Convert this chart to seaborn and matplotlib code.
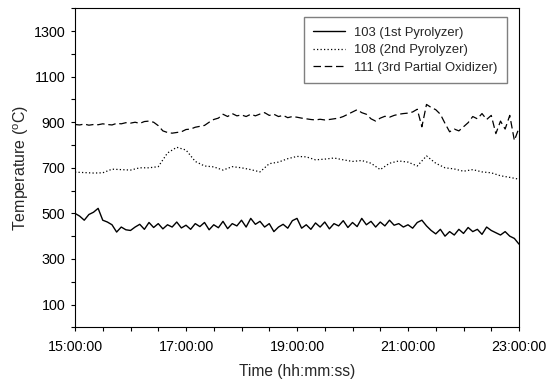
import numpy as np
import pandas as pd
import matplotlib
matplotlib.use("Agg")
import matplotlib.pyplot as plt
from matplotlib.ticker import FixedLocator, MultipleLocator
import seaborn as sns

# ---- data ----
start_hour = 15
step_solid_min = 5
t103 = [500, 488, 470, 495, 505, 522, 470, 462, 450, 418, 440, 428,
        425, 440, 452, 430, 460, 438, 455, 432, 450, 440, 462, 436,
        448, 430, 455, 442, 460, 428, 450, 437, 465, 433, 455, 445,
        470, 440, 478, 452, 465, 440, 455, 420, 440, 452, 435, 468,
        478, 435, 450, 430, 458, 440, 462, 432, 455, 445, 468, 438,
        460, 442, 478, 450, 465, 440, 462, 445, 470, 448, 455, 440,
        450, 435, 460, 470, 445, 425, 410, 430, 400, 420, 405, 430,
        412, 438, 420, 430, 408, 440, 425, 415, 405, 420, 400, 390,
        365]
step_dash_min = 5
t111 = [890, 888, 892, 887, 890, 889, 893, 890, 888, 895, 893, 898,
        896, 900, 895, 903, 905, 900, 885, 862, 855, 852, 855, 858,
        868, 870, 878, 882, 886, 900, 912, 918, 935, 925, 938, 928,
        932, 925, 935, 928, 936, 942, 930, 935, 925, 930, 920, 925,
        922, 918, 915, 912, 910, 913, 910, 912, 915, 918, 925, 935,
        945, 955, 942, 935, 915, 905, 918, 926, 922, 930, 935, 938,
        940, 945, 957, 880, 978, 965, 955, 935, 895, 858, 870, 862,
        880, 898, 925, 915, 938, 912, 930, 850, 905, 870, 930, 820,
        875]
step_dot_min = 10
t108 = [681, 679, 677, 678, 694, 692,
        690, 700, 700, 705, 765, 790,
        778, 728, 708, 704, 690, 705,
        700, 692, 682, 718, 725, 740,
        750, 748, 735, 738, 743, 735,
        728, 732, 720, 692, 720, 730,
        725, 708, 752, 720, 700, 695,
        685, 692, 682, 678, 665, 658,
        650]
series_labels = ["103 (1st Pyrolyzer)", "108 (2nd Pyrolyzer)", "111 (3rd Partial Oxidizer)"]
xtick_hours = [15, 17, 19, 21, 23]
xtick_labels = ["15:00:00", "17:00:00", "19:00:00", "21:00:00", "23:00:00"]
ytick_major = [100, 300, 500, 700, 900, 1100, 1300]


def make_df(vals, step, label):
    hrs = start_hour + np.arange(len(vals)) * step / 60.0
    return pd.DataFrame({"time": hrs, "temp": vals, "series": label})


df = pd.concat([make_df(t103, step_solid_min, series_labels[0]),
                make_df(t108, step_dot_min, series_labels[1]),
                make_df(t111, step_dash_min, series_labels[2])], ignore_index=True)

sns.set_style("ticks")
plt.rcParams["font.family"] = ["Liberation Sans", "DejaVu Sans"]
plt.rcParams["mathtext.fontset"] = "custom"
plt.rcParams["mathtext.rm"] = "Liberation Sans"
plt.rcParams["mathtext.it"] = "Liberation Sans:italic"

fig = plt.figure(figsize=(5.54, 3.80), dpi=100)
ax = fig.add_axes([75 / 554, 1 - 327.3 / 380, 444 / 554, 319 / 380])

styles = {series_labels[0]: (None, 1.0), series_labels[1]: ((0, (1, 1.8)), 0.9),
          series_labels[2]: ((0, (6, 3)), 0.9)}
for lab in series_labels:
    sub = df[df["series"] == lab]
    ls, lw = styles[lab]
    sns.lineplot(data=sub, x="time", y="temp", ax=ax, estimator=None,
                 color="black", lw=lw, label=lab)
    if ls is not None:
        ax.lines[-1].set_linestyle(ls)

ax.set_xlim(15, 23)
ax.set_ylim(0, 1400)
ax.xaxis.set_major_locator(FixedLocator(xtick_hours))
ax.set_xticklabels(xtick_labels)
ax.xaxis.set_minor_locator(MultipleLocator(0.5))
ax.yaxis.set_major_locator(FixedLocator(ytick_major))
ax.yaxis.set_minor_locator(MultipleLocator(200))
ax.tick_params(which="both", direction="out", length=3, width=0.8, color="black",
               labelsize=10.3, labelcolor="black")
ax.tick_params(axis="x", pad=6)
ax.tick_params(axis="y", pad=4)
for s in ax.spines.values():
    s.set_visible(True)
    s.set_color("black")
    s.set_linewidth(0.8)

ax.set_xlabel("Time (hh:mm:ss)", fontsize=11.2, labelpad=7)
ax.set_ylabel(r"Temperature ($^{\rm o}$C)", fontsize=11.5, labelpad=2)

leg = ax.legend(loc="upper right", bbox_to_anchor=(0.973, 0.972), borderaxespad=0,
                fontsize=9.4, frameon=True, fancybox=False, framealpha=1,
                edgecolor="#7f7f7f", handlelength=2.5, handletextpad=0.7,
                labelspacing=0.42, borderpad=0.7)
leg.get_frame().set_linewidth(1.0)

fig.savefig("out.png", dpi=100)
